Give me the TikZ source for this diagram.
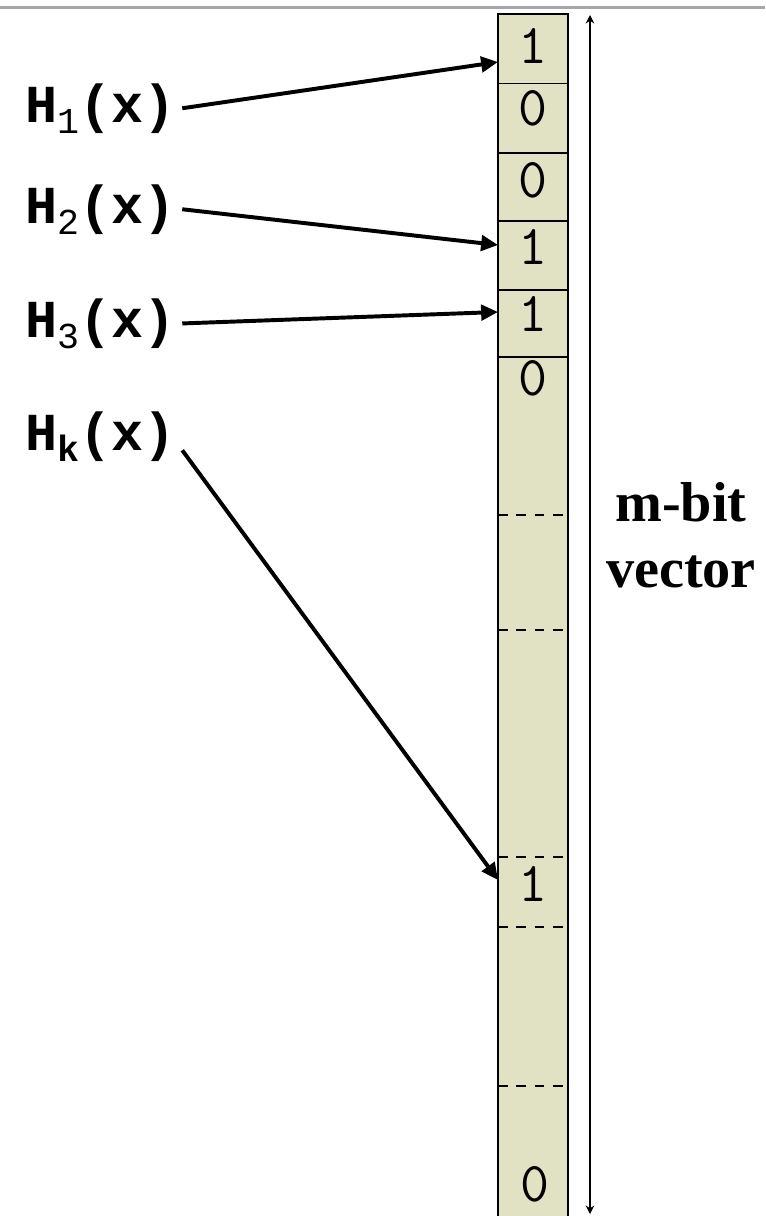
\documentclass[tikz,border=0pt]{standalone}
\usepackage{fontspec}
\usetikzlibrary{arrows.meta}
\newfontfamily\vecfont{Liberation Serif}
\newfontfamily\hashfont{Liberation Mono}
\definecolor{bitfill}{RGB}{225,225,196}
\newcommand{\hsub}[1]{\raisebox{-8pt}{\fontsize{26}{26}\selectfont #1}}
\tikzset{
  hashlabel/.style={anchor=base west, inner sep=0pt, outer xsep=5pt,
    font=\hashfont\bfseries\fontsize{38}{42}\selectfont},
  bitval/.style={inner sep=0pt, font=\ttfamily\fontsize{40}{44}\selectfont},
  hasharrow/.style={line width=2.8pt, -{Triangle[length=12pt,width=11pt]}},
  sizearrow/.style={line width=1.1pt,
    {Stealth[length=6pt,width=6pt]}-{Stealth[length=6pt,width=6pt]}},
}
\begin{document}
\begin{tikzpicture}[x=0.025cm, y=-0.025cm]
	\useasboundingbox (0,0) rectangle (765,1216);
	\clip (0,0) rectangle (765,1216);
	
	% Top rule
	\draw[black!35, line width=2.1pt] (0,7.5) -- (765,7.5);
	
	% Bit vector
	\draw[fill=bitfill, line width=1.4pt] (498,14) rectangle (568,1240);
	\foreach \y in {83.5, 153, 221, 290, 357}
		\draw[line width=1.4pt] (498,\y) -- (568,\y);
	\foreach \y in {515, 630, 857, 927, 1086}
		\draw[line width=1.5pt, dash pattern=on 7pt off 6pt] (498,\y) -- (568,\y);
	
	% Bit values
	\node[bitval] (b1) at (533,46) {1};
	\node[bitval] (b2) at (533,108) {0};
	\node[bitval] (b3) at (533,180) {0};
	\node[bitval] (b4) at (533,247) {1};
	\node[bitval] (b5) at (533,314) {1};
	\node[bitval] (b6) at (533,378) {0};
	\node[bitval] (bk) at (533,884) {1};
	\node[bitval] (bm) at (535,1184) {0};
	
	% Hash functions
	\node[hashlabel] (h1) at (18,122) {H\hsub{\mdseries 1}(x)};
	\node[hashlabel] (h2) at (18,223) {H\hsub{\mdseries 2}(x)};
	\node[hashlabel] (h3) at (18,337) {H\hsub{\mdseries 3}(x)};
	\node[hashlabel] (hk) at (18,450) {H\hsub{k}(x)};
	
	\coordinate (t1) at (498,62);
	\coordinate (t2) at (498,245);
	\coordinate (t3) at (498,312);
	\coordinate (tk) at (498,880);
	
	\draw[hasharrow] (h1.east) -- (t1);
	\draw[hasharrow] (h2.east) -- (t2);
	\draw[hasharrow] (h3.east) -- (t3);
	\draw[hasharrow] ([yshift=8pt]hk.south east) -- (tk);
	
	% Vector length
	\coordinate (mtop) at (590,15);
	\coordinate (mbot) at (590,1214);
	\draw[sizearrow] (mtop) -- (mbot);
	\node[font=\vecfont\bfseries\fontsize{40}{47}\selectfont, align=center, inner sep=0pt] (vec) at (681,535) {m-bit\\vector};
\end{tikzpicture}
\end{document}
